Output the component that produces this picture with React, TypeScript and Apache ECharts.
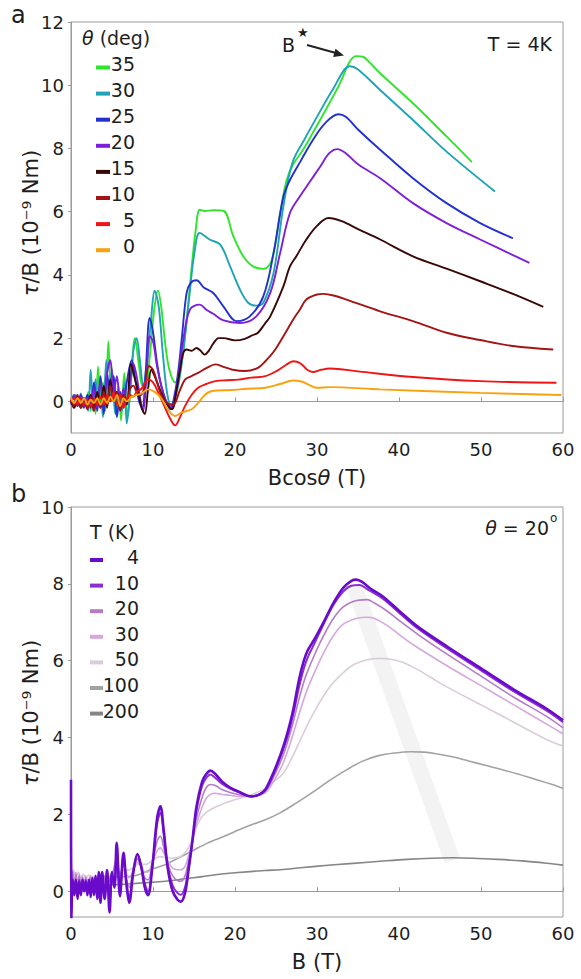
import React, { useEffect, useRef } from 'react';
import * as echarts from 'echarts';

// ---------- Panel a : tau/B vs Bcos(theta), T = 4K ----------
const thetaLabels = ['35', '30', '25', '20', '15', '10', '5', '0'];
const thetaColors = ['#2fe52a', '#1fa3b5', '#2330d0', '#7d1fd8', '#3a0707', '#a31414', '#f01414', '#f7a30f'];

const a35 = [[0,0],[0.3,0.2],[0.6,-0.1],[0.9,0.15],[1.2,-0.2],[1.5,0.1],[1.8,-0.15],[2.1,0.3],[2.4,-0.3],[2.7,0.5],[3.0,-0.4],[3.3,1.1],[3.6,-0.2],[3.9,0.6],[4.2,-0.3],[4.55,1.9],[4.9,0.1],[5.2,0.8],[5.5,-0.2],[5.8,0.5],[6.1,-0.6],[6.5,0.9],[6.9,-0.5],[7.3,0.6],[7.8,2.0],[8.3,1.1],[8.7,0.5],[9.1,0.5],[9.6,1.4],[10.1,2.8],[10.6,3.5],[11.0,3.0],[11.5,1.8],[12.0,1.0],[12.7,0.6],[13.2,0.9],[13.7,1.6],[14.2,2.8],[14.7,4.2],[15.2,5.4],[15.7,6.06],[16.3,6.02],[17.4,6.05],[18.6,6.03],[19.8,5.22],[21.0,4.59],[22.2,4.27],[23.5,4.19],[24.5,4.48],[25.5,5.95],[26.3,7.0],[27.1,7.5],[28.3,7.96],[29.5,8.5],[30.8,9.1],[32.8,10.06],[34.0,10.75],[34.8,10.92],[35.6,10.9],[36.5,10.7],[37.7,10.38],[41.7,9.43],[45.8,8.38],[48.9,7.57]];
const a30 = [[0,0.1],[0.3,-0.2],[0.6,0.2],[0.9,-0.1],[1.2,0.25],[1.5,-0.2],[1.8,0.1],[2.1,-0.3],[2.4,1.0],[2.7,-0.3],[3.0,0.7],[3.3,-0.1],[3.6,0.4],[3.9,-0.5],[4.3,1.3],[4.6,0.0],[5.0,1.0],[5.4,-0.4],[5.8,0.3],[6.2,-0.3],[6.5,0.6],[6.8,-0.7],[7.2,0.3],[7.6,1.6],[8.0,2.0],[8.4,1.3],[8.8,0.5],[9.3,1.3],[9.8,2.7],[10.2,3.5],[10.7,3.0],[11.2,1.5],[11.7,0.3],[12.2,-0.15],[12.8,0.2],[13.4,1.0],[14.0,2.3],[14.5,3.5],[15.0,4.6],[15.7,5.33],[16.9,5.12],[18.2,4.96],[19.4,4.27],[20.6,3.54],[21.6,3.12],[22.6,3.03],[23.45,3.12],[24.7,4.06],[25.9,6.17],[27.0,7.55],[28.5,8.3],[30.0,9.0],[32.0,9.9],[34.0,10.6],[35.0,10.5],[37.7,9.85],[41.7,8.9],[45.8,7.9],[51.7,6.64]];
const a25 = [[0,0],[0.4,0.15],[0.8,-0.15],[1.2,0.2],[1.6,-0.1],[2.0,0.2],[2.4,-0.2],[2.8,0.6],[3.2,-0.3],[3.6,0.8],[4.0,-0.4],[4.4,0.9],[4.8,0.0],[5.2,0.8],[5.6,-0.5],[6.0,0.3],[6.4,-0.2],[6.8,0.6],[7.4,1.3],[7.9,0.6],[8.3,0.0],[8.7,-0.2],[9.1,0.9],[9.6,2.64],[10.0,2.2],[10.5,1.2],[11.0,0.5],[11.6,0.0],[12.1,-0.25],[12.7,0.3],[13.1,1.0],[13.5,1.96],[14.1,3.43],[14.6,3.75],[15.3,3.83],[16.2,3.6],[17.35,3.43],[18.6,3.0],[20.2,2.54],[21.8,2.69],[23.45,3.32],[24.7,4.69],[25.9,6.48],[26.7,7.0],[28.0,7.6],[29.5,8.27],[31.0,8.8],[32.6,9.08],[33.5,9.0],[35.0,8.6],[37.7,7.96],[41.7,7.06],[45.8,6.27],[49.9,5.64],[53.9,5.16]];
const a20 = [[0,-0.1],[0.4,0.2],[0.8,-0.1],[1.2,0.15],[1.6,-0.2],[2.0,0.1],[2.4,-0.1],[2.8,0.4],[3.2,-0.2],[3.6,0.6],[4.0,-0.1],[4.4,0.9],[4.8,1.3],[5.2,0.3],[5.6,0.8],[6.0,-0.2],[6.4,0.4],[6.8,-0.1],[7.2,0.6],[7.6,1.2],[8.0,0.8],[8.5,0.0],[8.8,-0.3],[9.2,0.8],[9.6,2.06],[10.0,1.9],[10.5,1.1],[11.0,0.5],[11.6,0.0],[12.3,-0.2],[12.8,0.3],[13.2,1.0],[13.7,1.96],[14.5,2.9],[15.7,3.06],[16.5,2.9],[17.35,2.77],[18.6,2.56],[20.6,2.48],[22.6,2.69],[24.3,3.43],[25.5,4.69],[26.7,5.96],[27.9,6.48],[29.0,6.9],[30.4,7.43],[31.5,7.85],[32.5,7.98],[33.5,7.85],[35.0,7.5],[37.7,7.06],[41.7,6.27],[45.8,5.64],[49.9,5.12],[55.9,4.38]];
const a15 = [[0,0],[0.4,-0.2],[0.8,0.1],[1.2,-0.2],[1.6,0.1],[2.0,-0.1],[2.4,0.2],[2.8,-0.2],[3.2,0.3],[3.6,-0.2],[4.0,0.5],[4.4,-0.2],[4.8,0.7],[5.2,0.0],[5.6,0.3],[6.0,-0.2],[6.4,0.2],[6.8,-0.1],[7.3,1.2],[7.7,0.8],[8.2,0.3],[8.6,-0.2],[9.0,-0.4],[9.4,0.4],[9.8,1.0],[10.2,0.8],[10.8,0.4],[11.5,0.0],[12.3,-0.25],[12.9,0.4],[13.3,1.0],[13.7,1.54],[14.1,1.64],[14.7,1.6],[15.3,1.69],[15.8,1.6],[16.3,1.48],[16.8,1.6],[17.4,1.85],[18.0,2.0],[18.6,2.0],[20.0,1.93],[21.2,1.98],[22.2,2.1],[22.8,2.17],[23.7,2.48],[24.3,2.69],[25.9,3.64],[26.7,4.27],[27.5,4.6],[28.7,5.12],[30.0,5.55],[31.4,5.8],[33.0,5.7],[35.0,5.45],[37.7,5.12],[41.7,4.59],[45.8,4.2],[49.9,3.8],[53.9,3.4],[57.6,2.99]];
const a10 = [[0,0.05],[0.4,-0.15],[0.8,0.2],[1.2,-0.2],[1.6,0.1],[2.0,-0.25],[2.4,0.15],[2.8,-0.3],[3.2,0.1],[3.6,-0.2],[4.0,0.3],[4.4,-0.1],[4.8,0.5],[5.2,0.0],[5.6,0.3],[6.0,-0.3],[6.4,0.2],[6.8,0.0],[7.2,0.4],[7.6,0.5],[8.0,0.3],[8.5,0.2],[9.0,0.5],[9.5,1.12],[10.0,1.0],[10.5,0.6],[11.0,0.2],[11.7,-0.05],[12.5,-0.1],[13.2,0.3],[13.9,0.69],[14.7,0.8],[15.5,0.9],[16.5,1.05],[17.6,1.17],[18.5,1.1],[19.6,1.01],[21.2,0.96],[22.8,1.06],[23.7,1.27],[24.8,1.6],[25.9,2.06],[27.1,2.59],[27.9,2.9],[28.7,3.22],[30.0,3.38],[30.8,3.4],[32.0,3.35],[33.6,3.22],[37.7,2.85],[41.7,2.54],[45.8,2.17],[49.9,1.94],[53.9,1.75],[58.8,1.64]];
const a5 = [[0,0],[0.4,0.1],[0.8,-0.1],[1.2,0.1],[1.6,-0.1],[2.0,0.05],[2.4,-0.15],[2.8,0.1],[3.2,-0.1],[3.6,0.15],[4.0,-0.1],[4.4,0.2],[4.8,0.0],[5.2,0.3],[5.6,-0.1],[6.0,0.2],[6.4,-0.2],[6.8,0.1],[7.2,0.2],[7.6,0.15],[8.0,0.3],[8.6,0.4],[9.4,0.7],[10.0,0.6],[10.6,0.3],[11.3,-0.1],[12.0,-0.5],[12.7,-0.76],[13.3,-0.5],[13.9,-0.15],[14.7,0.2],[15.5,0.43],[16.5,0.55],[17.6,0.64],[19.0,0.67],[20.4,0.69],[22.0,0.75],[23.7,0.8],[25.0,0.95],[26.2,1.15],[27.1,1.27],[28.0,1.2],[28.8,1.0],[29.5,0.93],[30.5,1.0],[31.6,1.04],[35.0,0.95],[41.7,0.77],[49.9,0.64],[59.2,0.59]];
const a0 = [[0,0.1],[0.4,-0.05],[0.8,0.1],[1.2,-0.05],[1.6,0.1],[2.0,-0.1],[2.4,0.05],[2.8,-0.05],[3.2,0.1],[3.6,-0.1],[4.0,0.1],[4.4,-0.05],[4.8,0.15],[5.2,0.0],[5.6,0.2],[6.0,-0.15],[6.4,0.1],[6.8,0.0],[7.4,0.15],[8.0,0.2],[8.6,0.25],[9.4,0.38],[10.2,0.3],[11.0,0.1],[11.8,-0.25],[12.7,-0.46],[13.5,-0.35],[14.7,-0.25],[15.5,-0.05],[16.3,0.2],[17.2,0.33],[19.6,0.36],[21.5,0.4],[23.7,0.43],[25.5,0.55],[27.1,0.66],[28.2,0.62],[29.2,0.5],[30.0,0.43],[31.5,0.45],[37.7,0.38],[49.9,0.27],[59.8,0.2]];
const panelA = [a35, a30, a25, a20, a15, a10, a5, a0];

// ---------- Panel b : tau/B vs B, theta = 20 deg ----------
const tempLabels = ['4', '10', '20', '30', '50', '100', '200'];
const tempColors = ['#6a0bcc', '#8a2fd2', '#b57cc6', '#d4a8dc', '#d9cdd9', '#a2a2a2', '#858585'];
const tempWidths = [2.6, 2, 1.6, 1.6, 1.6, 1.6, 1.6];

const b4 = [[0,2.9],[0.05,-0.7],[0.2,0.3],[0.4,-0.1],[0.6,0.3],[0.8,-0.2],[1.0,0.25],[1.2,-0.1],[1.4,0.3],[1.6,0.0],[1.8,0.25],[2.0,-0.1],[2.2,0.3],[2.4,-0.15],[2.6,0.35],[2.8,-0.1],[3.0,0.4],[3.2,-0.2],[3.4,0.5],[3.6,-0.3],[3.8,0.5],[4.1,-0.2],[4.4,0.55],[4.7,-0.55],[5.0,0.5],[5.3,0.1],[5.57,1.26],[5.97,-0.13],[6.4,1.0],[6.75,0.2],[7.1,-0.3],[7.6,0.5],[8.1,0.97],[8.6,0.6],[9.0,0.1],[9.4,-0.1],[9.9,0.6],[10.5,1.9],[10.9,2.21],[11.3,1.6],[11.8,0.6],[12.4,0.0],[13.0,-0.22],[13.4,-0.27],[13.9,-0.05],[14.3,0.5],[14.8,1.3],[15.3,2.2],[16.0,2.86],[16.5,3.05],[17.0,3.14],[17.6,3.05],[18.4,2.86],[19.4,2.7],[20.4,2.6],[22.0,2.47],[23.0,2.52],[23.7,2.65],[24.3,2.9],[25.1,3.3],[25.9,3.77],[26.5,4.2],[27.1,4.72],[27.8,5.5],[28.4,6.0],[28.9,6.28],[29.8,6.6],[30.8,7.0],[32.0,7.5],[33.2,7.9],[34.2,8.08],[34.8,8.11],[35.5,8.05],[36.5,7.88],[38.1,7.66],[40.0,7.3],[42.2,6.9],[46.0,6.35],[50.0,5.8],[54.0,5.25],[58.0,4.75],[60,4.45]];
const b10 = [[0,2.5],[0.05,-0.5],[0.2,0.3],[0.4,0.0],[0.6,0.3],[0.8,-0.1],[1.0,0.3],[1.2,0.0],[1.4,0.3],[1.6,0.0],[1.8,0.3],[2.0,0.0],[2.2,0.3],[2.4,-0.05],[2.6,0.3],[2.8,0.0],[3.0,0.35],[3.2,-0.1],[3.4,0.4],[3.6,-0.15],[3.8,0.45],[4.1,-0.1],[4.4,0.45],[4.7,-0.35],[5.0,0.4],[5.3,0.1],[5.57,1.1],[5.97,0.0],[6.4,0.9],[6.75,0.25],[7.1,-0.15],[7.6,0.5],[8.1,0.95],[8.6,0.6],[9.0,0.2],[9.4,0.0],[9.9,0.6],[10.5,1.75],[10.9,2.04],[11.3,1.5],[11.8,0.65],[12.4,0.15],[13.0,-0.05],[13.4,-0.09],[13.9,0.1],[14.3,0.55],[14.8,1.3],[15.3,2.1],[16.0,2.75],[16.5,2.95],[17.0,3.04],[17.6,2.95],[18.4,2.8],[19.4,2.67],[20.4,2.58],[22.0,2.47],[23.0,2.52],[23.7,2.63],[24.3,2.85],[25.1,3.25],[25.9,3.7],[26.5,4.1],[27.1,4.6],[27.8,5.3],[28.4,5.8],[28.9,6.1],[29.8,6.5],[30.8,6.95],[32.0,7.45],[33.2,7.8],[34.2,7.95],[35.2,7.97],[36.2,7.85],[38.1,7.6],[40.0,7.25],[42.2,6.85],[46.0,6.3],[50.0,5.75],[54.0,5.2],[58.0,4.7],[60,4.4]];
const b20 = [[0,2.0],[0.05,-0.3],[0.2,0.5],[0.4,0.1],[0.6,0.45],[0.8,0.05],[1.0,0.4],[1.2,0.1],[1.4,0.35],[1.6,0.1],[1.8,0.35],[2.0,0.1],[2.3,0.35],[2.6,0.1],[2.9,0.35],[3.2,0.1],[3.5,0.4],[3.8,0.1],[4.1,0.4],[4.4,0.1],[4.7,0.3],[5.0,0.4],[5.57,0.85],[5.97,0.25],[6.4,0.75],[6.75,0.35],[7.1,0.1],[7.6,0.55],[8.1,0.85],[8.6,0.6],[9.0,0.35],[9.4,0.3],[9.9,0.7],[10.5,1.3],[10.9,1.43],[11.3,1.15],[11.8,0.7],[12.4,0.4],[13.0,0.28],[13.4,0.26],[13.9,0.4],[14.3,0.75],[14.8,1.3],[15.3,1.9],[16.0,2.45],[16.5,2.7],[17.0,2.78],[17.6,2.75],[18.4,2.65],[19.4,2.57],[20.4,2.52],[22.0,2.47],[23.0,2.52],[23.7,2.6],[24.3,2.8],[25.1,3.15],[25.9,3.55],[26.5,3.95],[27.1,4.4],[27.8,5.0],[28.4,5.45],[28.9,5.75],[29.8,6.2],[30.8,6.65],[32.0,7.1],[33.2,7.4],[34.5,7.55],[36.1,7.59],[37.0,7.5],[38.5,7.3],[40.0,7.05],[42.2,6.7],[46.0,6.15],[50.0,5.6],[54.0,5.05],[58.0,4.55],[60,4.25]];
const b30 = [[0,1.5],[0.05,0.0],[0.2,0.55],[0.4,0.2],[0.6,0.5],[0.8,0.15],[1.0,0.45],[1.2,0.2],[1.4,0.4],[1.6,0.2],[1.8,0.4],[2.1,0.2],[2.4,0.4],[2.7,0.2],[3.0,0.4],[3.3,0.2],[3.6,0.35],[4.0,0.25],[4.4,0.35],[5.0,0.4],[5.57,0.7],[5.97,0.4],[6.4,0.65],[6.75,0.45],[7.1,0.35],[7.6,0.55],[8.1,0.75],[8.6,0.65],[9.0,0.5],[9.4,0.5],[9.9,0.75],[10.5,1.05],[10.9,1.13],[11.3,1.0],[11.8,0.8],[12.4,0.6],[13.0,0.56],[13.4,0.56],[13.9,0.65],[14.3,0.9],[14.8,1.3],[15.3,1.75],[16.0,2.2],[16.5,2.42],[17.0,2.52],[17.6,2.55],[18.4,2.52],[19.4,2.5],[20.4,2.47],[22.0,2.47],[23.0,2.5],[23.7,2.57],[24.3,2.72],[25.1,3.0],[25.9,3.35],[26.5,3.7],[27.1,4.1],[27.8,4.6],[28.4,5.0],[28.9,5.3],[29.8,5.75],[30.8,6.2],[32.0,6.65],[33.2,6.95],[34.8,7.1],[36.3,7.13],[37.5,7.05],[39.0,6.85],[40.5,6.6],[42.2,6.35],[46.0,5.85],[50.0,5.35],[54.0,4.85],[58.0,4.35],[60,4.1]];
const b50 = [[0,1.0],[0.1,0.3],[0.3,0.55],[0.6,0.35],[0.9,0.5],[1.2,0.35],[1.5,0.45],[1.8,0.35],[2.2,0.42],[2.6,0.35],[3.0,0.4],[3.5,0.35],[4.0,0.4],[4.5,0.38],[5.0,0.45],[5.57,0.55],[6.0,0.5],[6.5,0.55],[7.0,0.55],[7.6,0.62],[8.1,0.7],[8.6,0.7],[9.2,0.7],[9.9,0.8],[10.5,0.88],[10.9,0.9],[11.5,0.88],[12.2,0.86],[13.0,0.88],[13.4,0.91],[13.9,1.0],[14.5,1.2],[15.0,1.5],[15.7,1.86],[16.5,2.05],[17.8,2.21],[19.5,2.35],[21.8,2.5],[23.5,2.65],[24.7,2.85],[25.9,3.07],[27.0,3.5],[28.0,3.95],[29.0,4.4],[30.0,4.8],[31.5,5.3],[33.0,5.65],[34.5,5.9],[36.0,6.02],[37.5,6.06],[39.0,6.04],[40.5,5.95],[42.0,5.8],[44.0,5.55],[46.0,5.3],[50.0,4.85],[54.0,4.4],[58.0,3.95],[60,3.78]];
const b100 = [[0,0.2],[0.2,0.35],[0.5,0.25],[1.0,0.3],[2.0,0.3],[3.0,0.32],[4.0,0.35],[5.0,0.37],[6.0,0.38],[7.4,0.39],[8.5,0.45],[9.5,0.55],[10.5,0.62],[11.5,0.69],[12.5,0.8],[13.5,0.91],[14.5,1.02],[15.5,1.13],[16.5,1.24],[17.6,1.34],[19.0,1.46],[20.5,1.6],[22.0,1.73],[23.7,1.86],[25.5,2.04],[27.5,2.3],[29.5,2.58],[31.5,2.88],[33.6,3.16],[35.5,3.38],[37.5,3.53],[39.5,3.6],[41.5,3.63],[43.0,3.62],[44.5,3.58],[46.5,3.5],[48.5,3.39],[50.5,3.28],[52.5,3.17],[54.5,3.05],[56.5,2.92],[58.5,2.79],[60,2.68]];
const b200 = [[0,0.05],[1.0,0.1],[2.5,0.13],[4.0,0.15],[5.4,0.17],[7.0,0.19],[9.0,0.22],[11.5,0.26],[14.0,0.33],[16.0,0.38],[17.6,0.43],[20.0,0.48],[23.7,0.54],[25.5,0.56],[28.0,0.61],[31.0,0.67],[34.0,0.72],[37.7,0.78],[41.0,0.83],[44.0,0.86],[46.5,0.87],[49.0,0.86],[52.0,0.83],[55.0,0.79],[58.0,0.73],[60,0.68]];
const panelB = [b4, b10, b20, b30, b50, b100, b200];

// light guide band through the maxima (B*)
const bandB = [[34.6, 7.9], [46.5, 0.8]];

const xTicks = [0, 10, 20, 30, 40, 50, 60];
const yTicksA = [0, 2, 4, 6, 8, 10, 12];
const yTicksB = [0, 2, 4, 6, 8, 10];

const FONT = 'DejaVu Sans';
const AXIS = '#9a9a9a';
const TXT = '#1e1e1e';

export default function App() {
  const ref = useRef<HTMLDivElement>(null);
  useEffect(() => {
    if (!ref.current) return;
    const chart = echarts.init(ref.current, null, { renderer: 'svg' });

    const gridA = { left: 71, top: 22, width: 492, height: 411 };
    const gridB = { left: 71, top: 507, width: 492, height: 410 };

    const xAxisBase = (gridIndex: number, name: string) => ({
      type: 'value', gridIndex, min: 0, max: 60, interval: 10,
      name, nameLocation: 'middle', nameGap: 34,
      nameTextStyle: { fontSize: 21, fontFamily: FONT, color: TXT, rich: { i: { fontStyle: 'italic', fontSize: 21, fontFamily: FONT, color: TXT } } },
      axisLine: { show: true, lineStyle: { color: AXIS, width: 1 } },
      axisTick: { show: true, inside: true, length: 4, lineStyle: { color: AXIS } },
      axisLabel: { fontSize: 18, fontFamily: FONT, color: TXT, margin: 7, customValues: xTicks },
      splitLine: { show: false },
    });
    const yAxisBase = (gridIndex: number, min: number, max: number, ticks: number[]) => ({
      type: 'value', gridIndex, min, max,
      axisLine: { show: true, lineStyle: { color: AXIS, width: 1 } },
      axisTick: { show: true, inside: false, length: 3, lineStyle: { color: AXIS }, customValues: ticks },
      axisLabel: { fontSize: 18, fontFamily: FONT, color: TXT, margin: 7, customValues: ticks },
      splitLine: { show: false },
    });

    const series: any[] = [];
    panelA.forEach((d, i) => {
      series.push({
        type: 'line', xAxisIndex: 0, yAxisIndex: 0, data: d, name: 'a' + thetaLabels[i],
        showSymbol: false, smooth: 0.35, silent: true,
        lineStyle: { color: thetaColors[i], width: 1.9 }, z: 2 + i,
      });
    });
    series.push({
      type: 'line', xAxisIndex: 1, yAxisIndex: 1, data: bandB, showSymbol: false, silent: true,
      lineStyle: { color: '#f3f3f3', width: 16, cap: 'butt' }, z: 1,
    });
    for (let i = panelB.length - 1; i >= 0; i--) {
      series.push({
        type: 'line', xAxisIndex: 1, yAxisIndex: 1, data: panelB[i], name: 'b' + tempLabels[i],
        showSymbol: false, smooth: 0.35, silent: true,
        lineStyle: { color: tempColors[i], width: tempWidths[i] }, z: 10 - i,
      });
    }

    const graphic: any[] = [];
    const italic = { i: { fontStyle: 'italic', fontSize: 19, fontFamily: FONT, fill: TXT } };
    const txt = (x: number, y: number, text: string, size: number, align = 'left', extra: any = {}) => ({
      type: 'text', x, y, silent: true,
      style: { text, fontSize: size, fontFamily: FONT, fill: TXT, align, verticalAlign: 'middle', ...extra },
    });
    // y axis titles (rotated)
    const yName = (cy: number) => ({
      type: 'text', x: 31, y: cy, rotation: Math.PI / 2, silent: true,
      style: {
        text: '{i|τ}/B (10⁻⁹ Nm)', fontSize: 21, fontFamily: FONT, fill: TXT, align: 'center', verticalAlign: 'middle',
        rich: { i: { fontStyle: 'italic', fontSize: 21, fontFamily: FONT, fill: TXT } },
      },
    });
    graphic.push(yName(223));
    graphic.push(yName(713));
    // panel letters
    graphic.push(txt(11, 3, 'a', 24, 'left', { verticalAlign: 'top' }));
    graphic.push(txt(11, 482, 'b', 24, 'left', { verticalAlign: 'top' }));
    // legend a
    graphic.push(txt(82, 38, '{i|θ} (deg)', 19, 'left', { rich: italic }));
    thetaLabels.forEach((l, i) => {
      const y = 63.5 + i * 26.1;
      graphic.push({ type: 'line', silent: true, shape: { x1: 96, y1: y + 4, x2: 110, y2: y + 4 }, style: { stroke: thetaColors[i], lineWidth: 4 } });
      graphic.push(txt(135, y, l, 19, 'right'));
    });
    // legend b
    graphic.push(txt(90, 532, 'T (K)', 19));
    tempLabels.forEach((l, i) => {
      const y = 557 + i * 25.6;
      graphic.push({ type: 'line', silent: true, shape: { x1: 90, y1: y + 3, x2: 103, y2: y + 3 }, style: { stroke: tempColors[i], lineWidth: 4 } });
      graphic.push(txt(139, y, l, 19, 'right'));
    });
    // annotations panel a
    graphic.push(txt(552, 44, 'T = 4K', 19, 'right'));
    graphic.push(txt(282, 45, 'B', 19));
    graphic.push(txt(297, 32, '★', 13));
    graphic.push({ type: 'line', silent: true, shape: { x1: 307, y1: 45, x2: 335, y2: 52.8 }, style: { stroke: '#222', lineWidth: 2 } });
    graphic.push({ type: 'polygon', silent: true, shape: { points: [[344, 55.5], [333.1, 56.9], [335.5, 48.7]] }, style: { fill: '#222' } });
    // annotation panel b
    graphic.push(txt(549, 528, '{i|θ} = 20', 19, 'right', { rich: italic }));
    graphic.push(txt(550, 518, 'o', 12));

    chart.setOption({
      animation: false,
      backgroundColor: '#ffffff',
      grid: [
        { ...gridA, show: true, borderColor: AXIS, borderWidth: 1, containLabel: false, outerBoundsMode: 'none' },
        { ...gridB, show: true, borderColor: AXIS, borderWidth: 1, containLabel: false, outerBoundsMode: 'none' },
      ],
      xAxis: [xAxisBase(0, 'Bcos{i|θ} (T)'), xAxisBase(1, 'B (T)')],
      yAxis: [yAxisBase(0, -1, 12, yTicksA), yAxisBase(1, -0.67, 10, yTicksB)],
      series,
      graphic,
    });
    return () => chart.dispose();
  }, []);
  return <div ref={ref} style={{ position: 'fixed', left: 0, top: 0, width: 581, height: 979, background: '#fff' }} />;
}
